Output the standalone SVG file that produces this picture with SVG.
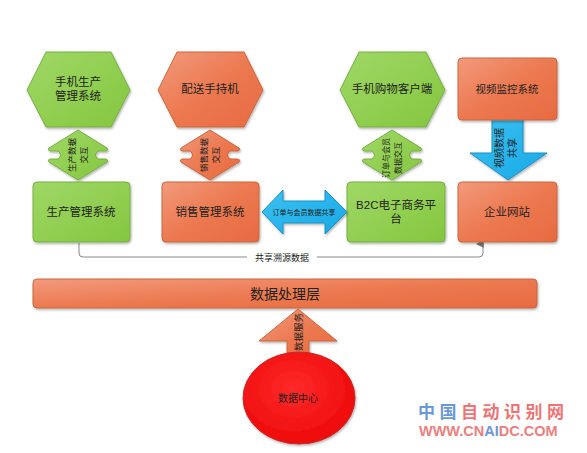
<svg xmlns="http://www.w3.org/2000/svg" width="587" height="453" viewBox="0 0 587 453">
<defs>
<linearGradient id="gOr" x1="0" y1="0" x2="1" y2="1"><stop offset="0" stop-color="#f29a7c"/><stop offset="0.5" stop-color="#ec7950"/><stop offset="1" stop-color="#e86a40"/></linearGradient>
<linearGradient id="gGr" x1="0" y1="0" x2="1" y2="1"><stop offset="0" stop-color="#9fd866"/><stop offset="1" stop-color="#84c63e"/></linearGradient>
<linearGradient id="gBl" x1="0" y1="0" x2="1" y2="1"><stop offset="0" stop-color="#3cc2f2"/><stop offset="1" stop-color="#17a8e6"/></linearGradient>
<radialGradient id="gRd" cx="0.45" cy="0.4" r="0.6"><stop offset="0" stop-color="#ff2a2a"/><stop offset="1" stop-color="#ee0a0a"/></radialGradient>
<filter id="sh" x="-10%" y="-10%" width="130%" height="130%"><feDropShadow dx="1" dy="1.5" stdDeviation="1.2" flood-color="#000" flood-opacity="0.3"/></filter>
<marker id="ah" viewBox="0 0 10 10" refX="5" refY="9" markerWidth="8" markerHeight="8" orient="auto-start-reverse" markerUnits="userSpaceOnUse"><path d="M0,10 L5,0 L10,10 Z" fill="#777"/></marker>
<path id="dbl" d="M0,-25 L29,-7 Q31,-5 28,-4 L20,-4 Q15,0 20,4 L28,4 Q31,5 29,7 L0,25 L-29,7 Q-31,5 -28,4 L-20,4 Q-15,0 -20,-4 L-28,-4 Q-31,-5 -29,-7 Z"/>
</defs>
<style>
.or{fill:url(#gOr);stroke:#c9673f;stroke-width:1;filter:url(#sh)}
.gr{fill:url(#gGr);stroke:#78ad45;stroke-width:1;filter:url(#sh)}
.bl{fill:url(#gBl);stroke:#1a90c2;stroke-width:1;filter:url(#sh)}
.t{font-family:"Liberation Sans","Noto Sans CJK SC",sans-serif;fill:#222;text-anchor:middle;dominant-baseline:central}
.n{font-size:11.5px}
.s{font-size:8.5px}
</style>
<rect width="587" height="453" fill="#fff"/>

<g id="connectors">
<path d="M79,243 L79,253 Q79,257 83,257 L479,257 Q483,257 483,253 L483,244" fill="none" stroke="#888" stroke-width="1" marker-end="url(#ah)"/>
<rect x="247" y="252" width="70" height="11" fill="#fff"/>
<text class="t" x="282" y="258" style="font-size:9px">共享溯源数据</text>
</g>

<g id="hex1">
<polygon class="gr" points="27,90 46,52 111,52 130,90 111,127 46,127"/>
<text class="t n" x="78" y="82">手机生产</text>
<text class="t n" x="78" y="96">管理系统</text>
</g>
<g id="hex2">
<polygon class="or" points="158,90 177,52 244,52 263,90 244,127 177,127"/>
<text class="t n" x="210" y="89">配送手持机</text>
</g>
<g id="hex3">
<polygon class="gr" points="340,90 359,52 426,52 445,90 426,127 359,127"/>
<text class="t n" x="392" y="89">手机购物客户端</text>
</g>

<g id="arrow-video">
<path class="bl" d="M492,118 L523,118 L523,153 L547,153 L508,180 L470,153 L492,153 Z"/>
<text class="t" transform="translate(499,148) rotate(-90)" style="font-size:10px">视频数据</text>
<text class="t" transform="translate(512,148) rotate(-90)" style="font-size:10px">共享</text>
</g>

<g id="video">
<rect class="or" x="458" y="58" width="99" height="62" rx="4"/>
<text class="t" x="507" y="89" style="font-size:10.5px">视频监控系统</text>
</g>

<g id="arrow1">
<use href="#dbl" class="gr" transform="translate(78,155)"/>
<text class="t s" transform="translate(72,155) rotate(-90)">生产数据</text>
<text class="t s" transform="translate(84,155) rotate(-90)">交互</text>
</g>
<g id="arrow2">
<use href="#dbl" class="or" transform="translate(210,155)"/>
<text class="t s" transform="translate(204,155) rotate(-90)">销售数据</text>
<text class="t s" transform="translate(216,155) rotate(-90)">交互</text>
</g>
<g id="arrow3">
<use href="#dbl" class="gr" transform="translate(392,155)"/>
<text class="t" transform="translate(386,158) rotate(-90)" style="font-size:8px">订单与会员</text>
<text class="t" transform="translate(398,158) rotate(-90)" style="font-size:8px">数据交互</text>
</g>

<g id="prod">
<rect class="gr" x="33" y="182" width="97" height="60" rx="4"/>
<text class="t n" x="81" y="212">生产管理系统</text>
</g>
<g id="sales">
<rect class="or" x="162" y="182" width="97" height="60" rx="4"/>
<text class="t n" x="210" y="212">销售管理系统</text>
</g>
<g id="b2c">
<rect class="gr" x="347" y="182" width="98" height="60" rx="4"/>
<text class="t n" x="396" y="205">B2C电子商务平</text>
<text class="t n" x="396" y="219">台</text>
</g>
<g id="web">
<rect class="or" x="458" y="182" width="99" height="60" rx="4"/>
<text class="t n" x="507" y="212">企业网站</text>
</g>

<g id="arrow-share">
<path class="bl" d="M262,212 L283,190 L283,201 L325,201 L325,190 L347,212 L325,234 L325,223 L283,223 L283,234 Z"/>
<text class="t" x="304" y="212" style="font-size:7px">订单与会员数据共享</text>
</g>

<g id="layer">
<rect class="or" x="33" y="279" width="504" height="29" rx="4"/>
<text class="t" x="285" y="294" style="font-size:14px">数据处理层</text>
</g>

<g id="arrow-service">
<path class="or" d="M298,309 L337,341 L309,341 L309,362 L287,362 L287,341 L259,341 Z"/>
<text class="t" transform="translate(298,332) rotate(-90)" style="font-size:9.5px">数据服务</text>
</g>

<g id="center">
<ellipse cx="299" cy="398" rx="56" ry="46" fill="url(#gRd)" stroke="#c62a2a" stroke-width="1" filter="url(#sh)"/>
<text class="t" x="298" y="398" style="font-size:10px">数据中心</text>
</g>

<g id="watermark" font-family="'Noto Sans CJK SC','Liberation Sans',sans-serif">
<text x="418" y="418" font-size="17" letter-spacing="4.5" font-weight="bold"><tspan fill="#6b98d6">中国</tspan><tspan fill="#eb7474">自动识别网</tspan></text>
<text x="419" y="436" font-size="14.5" font-weight="bold" font-family="'Liberation Sans',sans-serif"><tspan fill="#ea8080">WWW.CN</tspan><tspan fill="#6b98d6">AI</tspan><tspan fill="#ea8080">DC.COM</tspan></text>
</g>
</svg>
